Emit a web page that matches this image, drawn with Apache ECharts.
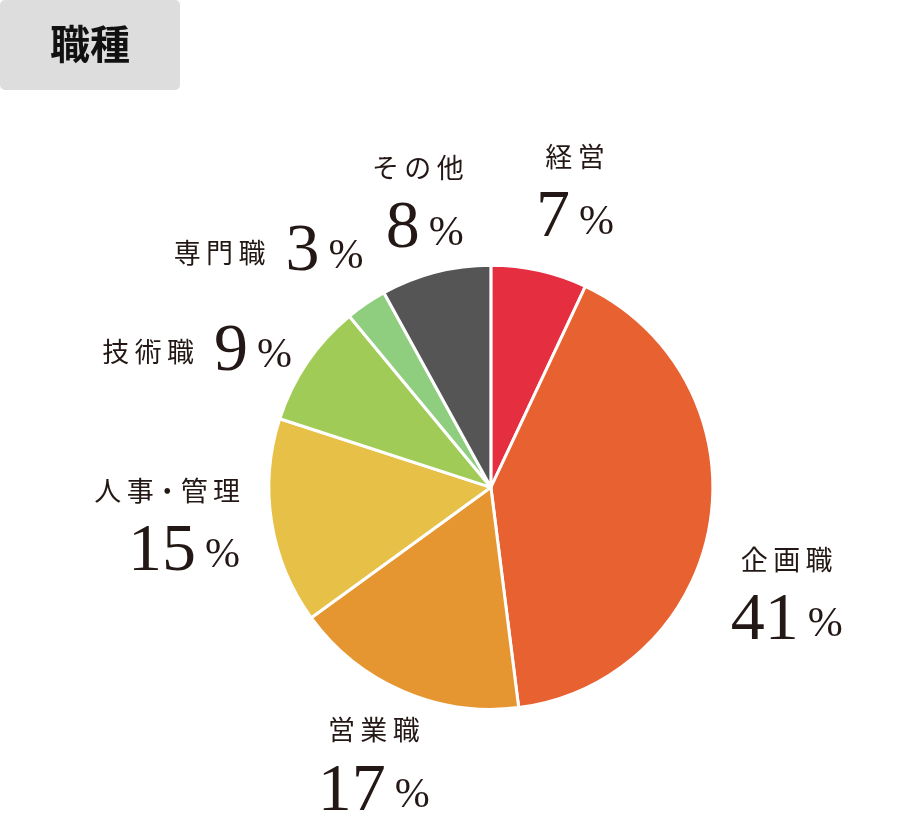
<!DOCTYPE html>
<html>
<head>
<meta charset="utf-8">
<script src="https://cdn.jsdelivr.net/npm/echarts@6/dist/echarts.min.js"></script>
<style>
  html, body { margin: 0; padding: 0; background: #fff; }
  #chart { width: 904px; height: 819px; }
</style>
</head>
<body>
<div id="chart"></div>
<script>
// 職種 breakdown, clockwise from 12 o'clock
const categories = ["経営", "企画職", "営業職", "人事・管理", "技術職", "専門職", "その他"];
const shares = [7, 41, 17, 15, 9, 3, 8];
const colors = ["#E52E40", "#E86131", "#E69631", "#E7C048", "#A0CB56", "#8FCD7F", "#555555"];

// labels that sit on one line next to their name
const inlineLabels = ["専門職", "技術職"];
// text alignment and nudges from the default outside label point
const labelAlign = ["center", "center", "center", "right", "center", "center", "right"];
const labelShift = [[22, -42], [32, 64], [-8, 35], [13, -5], [-72, 12], [-70, -18], [43, -33]];

const ink = "#231815";
const jpFont = "'Noto Sans CJK JP', sans-serif";
const numFont = "'Liberation Serif', 'DejaVu Serif', serif";

// spread the kana/kanji a little like the printed labels
function spaced(name) {
  return name.split("").join("\u2009").replace(/\u2009・\u2009/g, "・");
}

const chart = echarts.init(document.getElementById("chart"));

chart.setOption({
  animation: false,
  title: {
    text: "職種",
    left: 0,
    top: 0,
    padding: [24, 50, 26, 50],
    backgroundColor: "#DDDDDD",
    borderRadius: 5,
    textStyle: { fontFamily: jpFont, fontWeight: "bold", fontSize: 40, color: "#111", lineHeight: 40 }
  },
  series: [
    {
      type: "pie",
      center: ["54.3%", "59.5%"],
      radius: ["0%", 222],
      startAngle: 90,
      clockwise: true,
      avoidLabelOverlap: false,
      itemStyle: { borderColor: "#fff", borderWidth: 3 },
      emphasis: { disabled: true },
      label: {
        show: true,
        position: "outside",
        color: ink,
        formatter: (p) =>
          inlineLabels.includes(p.name)
            ? "{n|" + spaced(p.name) + "}{s|}{v|" + p.value + "}{p|%}"
            : "{n|" + spaced(p.name) + "}\n{v|" + p.value + "}{p|%}",
        rich: {
          n: { fontFamily: jpFont, fontSize: 27, color: ink, lineHeight: 58 },
          s: { width: 20 },
          v: { fontFamily: numFont, fontSize: 68, color: ink, lineHeight: 66 },
          p: { fontFamily: numFont, fontSize: 42, color: ink, lineHeight: 52, verticalAlign: "bottom", padding: [0, 0, 8, 9] }
        }
      },
      labelLine: { show: false, length: 40, length2: 0 },
      labelLayout: (params) => ({
        align: labelAlign[params.dataIndex],
        verticalAlign: "middle",
        dx: labelShift[params.dataIndex][0],
        dy: labelShift[params.dataIndex][1]
      }),
      data: categories.map((name, i) => ({
        name: name,
        value: shares[i],
        itemStyle: { color: colors[i] }
      }))
    }
  ]
});
</script>
</body>
</html>
